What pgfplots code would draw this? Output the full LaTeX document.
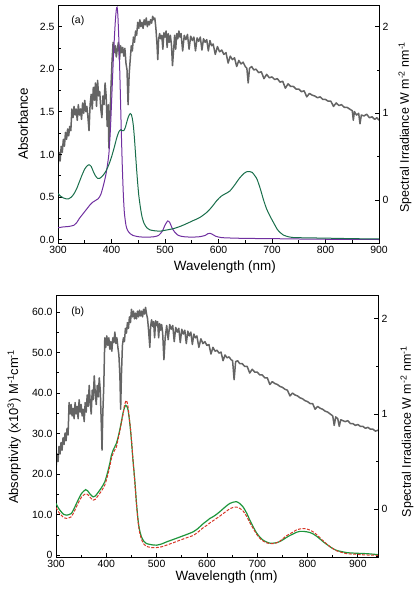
\documentclass[border=0pt]{standalone}
\usepackage{fontspec}
\setmainfont{Liberation Sans}
\usepackage{pgfplots}
\pgfplotsset{compat=1.18}
\definecolor{irgrey}{RGB}{100,100,100}
\definecolor{cpurple}{RGB}{112,48,160}
\definecolor{cteal}{RGB}{25,110,75}
\definecolor{cgreen}{RGB}{30,150,60}
\definecolor{cred}{RGB}{215,55,40}
\begin{document}
\begin{tikzpicture}
\useasboundingbox (0,0) rectangle (417bp,599bp);
\pgfplotsset{
  base/.style={
    scale only axis, anchor=south west,
    tick align=inside,
    /pgf/number format/assume math mode=true,
    tick label style={font=\fontsize{10.5}{12}\selectfont},
    label style={font=\fontsize{13.5}{15}\selectfont},
    major tick length=4bp, minor tick length=2.5bp,
    axis line style={line width=0.9bp},
    every tick/.style={black, line width=0.8bp},
  },
  grey/.style={irgrey, line width=1.5bp, line join=round},
}
% ---------------- panel (a): irradiance on right axis
\begin{axis}[base, at={(58bp,356bp)}, width=321bp, height=238bp,
  xmin=300, xmax=900, ymin=-0.496, ymax=2.25,
  axis y line*=right, axis x line=none,
  ytick={0,1,2}, minor ytick={-0.5,0.5,1.5},
  ylabel={Spectral Irradiance W m\textsuperscript{-2} nm\textsuperscript{-1}},
  ylabel style={at={(axis description cs:1.081,0.487)}, anchor=center, font=\fontsize{12.5}{14}\selectfont},
]
\addplot[grey] coordinates {
(300,0.38)(302,0.55)(304,0.45)(306,0.62)(308,0.55)(310,0.70)(312,0.62)(314,0.78)(316,0.70)(318,0.82)
(320,0.74)(322,0.85)(324,0.80)(326,1.05)(328,0.95)(330,1.08)(332,0.98)(334,1.05)(336,0.92)(338,1.10)
(340,0.98)(342,1.05)(344,0.93)(346,1.12)(348,1.00)(350,1.15)(352,1.02)(354,1.08)(356,0.95)(358,0.80)
(360,1.10)(362,1.22)(364,1.05)(366,1.30)(368,1.15)(370,1.35)(372,1.08)(374,1.38)(376,1.20)(378,1.25)
(380,1.05)(382,0.95)(384,1.20)(386,1.10)(388,1.35)(390,1.20)(392,0.85)(394,1.10)(395,0.60)(397,0.90)
(399,1.30)(401,1.60)(403,1.82)(405,1.70)(407,1.78)(409,1.65)(411,1.75)(413,1.82)(415,1.62)(417,1.78)
(419,1.70)(421,1.76)(423,1.66)(425,1.75)(427,1.58)(429,1.50)(431,1.10)(433,1.45)(435,1.62)(437,1.78)
(439,1.72)(441,1.88)(443,1.82)(445,1.95)(447,1.90)(449,2.05)(451,1.98)(453,2.08)(455,2.00)(457,2.05)
(459,1.98)(461,2.08)(463,2.02)(465,2.10)(467,2.00)(469,2.06)(471,2.02)(473,2.08)(475,2.04)(477,2.12)
(479,2.08)(481,2.10)(483,1.98)(485,1.80)(486.5,1.62)(488,1.85)(490,1.92)(492,1.86)(494,1.90)(496,1.74)
(498,1.93)(500,1.88)(502,1.95)(504,1.76)(506,1.92)(508,1.82)(510,1.90)(512,1.80)(514,1.55)(516,1.72)
(518,1.90)(520,1.74)(522,1.92)(524,1.86)(526,1.95)(528,1.88)(530,1.92)(533,1.72)(536,1.90)(539,1.85)
(542,1.91)(545,1.74)(548,1.89)(551,1.84)(554,1.88)(557,1.72)(560,1.87)(563,1.83)(566,1.88)(569,1.73)
(572,1.86)(575,1.82)(578,1.85)(581,1.72)(584,1.84)(587,1.78)(590,1.80)(594,1.68)(598,1.77)(602,1.71)
(606,1.73)(610,1.68)(614,1.70)(618,1.58)(622,1.66)(626,1.62)(630,1.64)(634,1.54)(638,1.61)(642,1.57)
(646,1.59)(650,1.54)(653,1.52)(655.5,1.35)(658,1.52)(662,1.54)(666,1.50)(670,1.51)(675,1.47)(680,1.48)
(685,1.40)(690,1.45)(695,1.41)(700,1.42)(705,1.39)(710,1.40)(715,1.36)(720,1.37)(725,1.29)(730,1.34)
(735,1.31)(740,1.31)(745,1.28)(750,1.28)(755,1.25)(760,1.26)(765,1.19)(770,1.23)(775,1.21)(780,1.20)
(785,1.18)(790,1.19)(795,1.16)(800,1.16)(805,1.14)(810,1.14)(815,1.08)(820,1.12)(825,1.09)(830,1.10)
(835,1.07)(840,1.07)(845,1.05)(850,1.03)(852,0.92)(854,1.02)(858,0.98)(862,1.00)(864.5,0.88)(867,0.98)
(872,0.97)(877,0.99)(882,0.95)(887,0.96)(892,0.93)(896,0.95)(900,0.92)
};
\end{axis}
% ---------------- panel (a): absorbance
\begin{axis}[base, at={(58bp,356bp)}, width=321bp, height=238bp,
  xmin=300, xmax=900, ymin=-0.039, ymax=2.755,
  xtick pos=bottom, ytick pos=left,
  xtick={300,400,...,900}, minor xtick={350,450,...,850},
  ytick={0,0.5,...,2.5}, minor ytick={0.25,0.75,...,2.25},
  yticklabel style={/pgf/number format/.cd, fixed, fixed zerofill, precision=1},
  xlabel={Wavelength (nm)}, ylabel={Absorbance},
  xlabel style={at={(axis description cs:0.52,-0.10)}, anchor=center},
  ylabel style={at={(axis description cs:-0.109,0.5)}, anchor=center},
]
\addplot[cpurple, line width=1bp, smooth, tension=0.4] coordinates {
(300,0.14)(310,0.15)(320,0.155)(330,0.17)(335,0.20)(340,0.25)(345,0.29)(350,0.33)(355,0.37)(360,0.41)
(365,0.44)(370,0.46)(375,0.48)(380,0.53)(385,0.64)(390,0.78)(395,1.00)(398,1.30)(401,1.75)(404,2.20)
(407,2.55)(409,2.70)(410.5,2.73)(412,2.62)(414,2.30)(416,1.85)(418,1.35)(420,0.90)(422,0.55)(424,0.32)
(427,0.17)(430,0.11)(435,0.07)(440,0.05)(450,0.035)(460,0.03)(470,0.03)(480,0.035)(488,0.05)(495,0.10)
(500,0.17)(505,0.22)(509,0.20)(513,0.14)(518,0.09)(525,0.05)(535,0.035)(550,0.03)(565,0.035)(575,0.05)
(580,0.07)(584,0.075)(588,0.065)(595,0.04)(605,0.025)(620,0.02)(650,0.015)(700,0.012)(750,0.008)(800,0.005)
(850,0.003)(900,0.002)
};
\addplot[cteal, line width=1bp, smooth, tension=0.4] coordinates {
(300,0.54)(305,0.51)(310,0.49)(315,0.48)(320,0.48)(325,0.50)(330,0.54)(335,0.60)(340,0.68)(345,0.76)
(350,0.83)(355,0.87)(358,0.88)(362,0.86)(366,0.80)(370,0.75)(374,0.72)(378,0.72)(382,0.74)(386,0.77)
(390,0.81)(395,0.88)(400,0.97)(405,1.08)(410,1.20)(414,1.27)(417,1.29)(420,1.28)(423,1.28)(426,1.32)
(429,1.39)(432,1.45)(435,1.48)(437,1.47)(439,1.42)(441,1.33)(443,1.18)(445,1.00)(447,0.82)(449,0.66)
(451,0.52)(454,0.38)(457,0.27)(461,0.19)(466,0.14)(472,0.115)(480,0.105)(491,0.10)(500,0.11)(516,0.13)
(530,0.16)(541,0.19)(553,0.225)(565,0.26)(578,0.32)(587,0.38)(597,0.46)(605,0.51)(613,0.54)(621,0.57)
(630,0.64)(639,0.72)(648,0.78)(654,0.80)(658,0.80)(663,0.79)(668,0.75)(672,0.71)(678,0.60)(684,0.47)
(690,0.36)(696,0.28)(702,0.21)(710,0.12)(716,0.08)(721,0.055)(730,0.035)(740,0.025)(760,0.022)(780,0.02)
(800,0.018)(850,0.012)(900,0.008)
};
\node[anchor=west, font=\fontsize{10.5}{12}\selectfont] at (axis description cs:0.031,0.933) {(a)};
\end{axis}
% ---------------- panel (b): irradiance on right axis
\begin{axis}[base, at={(56bp,42bp)}, width=322bp, height=262bp,
  xmin=300, xmax=940, ymin=-0.502, ymax=2.25,
  axis y line*=right, axis x line=none,
  ytick={0,1,2}, minor ytick={-0.5,0.5,1.5},
  ylabel={Spectral Irradiance W m\textsuperscript{-2} nm\textsuperscript{-1}},
  ylabel style={at={(axis description cs:1.09,0.478)}, anchor=center, font=\fontsize{12.5}{14}\selectfont},
]
\addplot[grey] coordinates {
(300,0.42)(302,0.58)(304,0.50)(306,0.66)(308,0.58)(310,0.70)(312,0.62)(314,0.75)(316,0.68)(318,0.80)
(320,0.72)(322,0.85)(324,0.78)(326,1.12)(328,1.00)(330,1.10)(332,0.98)(334,1.06)(336,0.95)(338,1.12)
(340,1.00)(342,1.08)(344,0.95)(346,1.15)(348,1.02)(350,1.10)(352,0.98)(354,1.05)(356,0.92)(358,1.12)
(360,1.02)(362,1.20)(364,1.08)(366,1.30)(368,1.12)(370,1.00)(372,1.25)(374,1.15)(376,1.40)(378,1.22)
(380,1.10)(382,1.30)(384,1.18)(386,1.38)(388,1.25)(390,0.90)(391.5,0.62)(393,1.00)(395,1.30)(397,1.80)
(399,1.70)(401,1.82)(403,1.72)(405,1.80)(407,1.68)(409,1.76)(411,1.66)(413,1.80)(415,1.75)(417,1.86)
(419,1.74)(421,1.80)(423,1.70)(425,1.62)(427,1.40)(428.5,1.05)(430,1.40)(432,1.72)(434,1.80)(436,1.76)
(438,1.90)(440,1.85)(442,1.96)(444,1.90)(446,2.02)(448,1.96)(450,2.10)(452,2.02)(454,2.08)(456,2.00)
(458,2.06)(460,2.00)(462,2.08)(464,2.02)(466,2.09)(468,2.03)(470,2.08)(472,2.02)(474,2.10)(476,2.05)
(478,2.12)(480,2.05)(482,2.00)(484,1.88)(486.5,1.70)(488,1.92)(490,1.99)(492,1.92)(494,1.97)(496,1.80)
(498,1.98)(500,1.93)(502,1.97)(504,1.80)(506,1.95)(508,1.88)(510,1.94)(512,1.85)(514.5,1.57)(517,1.80)
(520,1.93)(523,1.78)(526,1.94)(529,1.89)(532,1.93)(535,1.76)(538,1.91)(541,1.86)(544,1.90)(547,1.75)
(550,1.89)(553,1.84)(556,1.88)(559,1.74)(562,1.87)(565,1.82)(568,1.86)(571,1.73)(574,1.84)(577,1.80)
(580,1.82)(584,1.70)(588,1.79)(592,1.74)(596,1.76)(600,1.72)(604,1.73)(608,1.63)(612,1.70)(616,1.66)
(620,1.67)(624,1.64)(628,1.65)(632,1.56)(636,1.62)(640,1.59)(644,1.60)(648,1.57)(651,1.56)(654,1.36)
(657,1.55)(661,1.56)(665,1.53)(670,1.53)(675,1.50)(680,1.50)(685,1.43)(690,1.47)(695,1.44)(700,1.44)
(705,1.41)(710,1.41)(715,1.38)(720,1.38)(725,1.31)(730,1.34)(735,1.32)(740,1.31)(745,1.29)(750,1.28)
(755,1.26)(760,1.25)(765,1.19)(770,1.22)(775,1.20)(780,1.19)(785,1.17)(790,1.16)(795,1.14)(800,1.13)
(805,1.11)(810,1.11)(815,1.05)(820,1.08)(825,1.06)(830,1.05)(835,1.03)(840,1.02)(845,1.00)(850,0.98)
(853,0.88)(856,0.97)(860,0.95)(863,0.87)(866,0.94)(870,0.93)(875,0.92)(880,0.93)(885,0.90)(890,0.90)
(895,0.88)(900,0.89)(905,0.87)(910,0.87)(915,0.85)(920,0.86)(925,0.84)(930,0.84)(935,0.82)(940,0.83)
};
\end{axis}
% ---------------- panel (b): absorptivity
\begin{axis}[base, at={(56bp,42bp)}, width=322bp, height=262bp,
  xmin=300, xmax=940, ymin=-0.42, ymax=64.2,
  xtick pos=bottom, ytick pos=left,
  xtick={300,400,...,900}, minor xtick={350,450,...,850},
  ytick={0,10,...,60}, minor ytick={5,15,...,55},
  yticklabels={0,10.0,20.0,30.0,40.0,50.0,60.0},
  xlabel={Wavelength (nm)},
  ylabel={Absorptivity (x10\textsuperscript{3}) M\textsuperscript{-1}cm\textsuperscript{-1}},
  xlabel style={at={(axis description cs:0.53,-0.075)}, anchor=center},
  ylabel style={at={(axis description cs:-0.13,0.497)}, anchor=center, font=\fontsize{13}{15}\selectfont},
]
\addplot[cgreen, line width=1.2bp, smooth, tension=0.4] coordinates {
(300,12.8)(305,11.6)(310.6,10.7)(315,10.1)(320.6,9.9)(325,10.0)(330.5,10.3)(337,11.8)(343.8,13.6)(351,15.3)
(359,16.2)(363,15.9)(367,15.2)(373.7,14.4)(378,14.6)(383.6,15.5)(390,16.6)(396.9,18.1)(402,20.2)(406.8,22.6)
(410,24.6)(413.5,25.9)(417,26.8)(420,27.6)(423,28.9)(426.7,30.9)(430,33.0)(433,35.0)(436,36.4)(438.7,37.0)
(441,36.7)(443.3,35.8)(446,33.3)(448,31.0)(450,28.2)(453,23.5)(456.6,18.5)(460,12.8)(463.2,8.6)(466,6.3)
(470,4.5)(475,3.4)(479.8,2.9)(490,2.6)(499.7,2.5)(510,2.8)(519.6,3.3)(533,3.9)(546,4.5)(559,5.1)
(572.7,5.8)(582,6.6)(592.6,7.8)(600,8.5)(605.9,9.1)(612,9.5)(619,10.1)(626,10.8)(632.4,11.5)(639,12.2)
(645.7,12.8)(652,13.1)(659,13.2)(665,12.8)(672,11.9)(679,10.4)(685.5,8.6)(692,7.0)(698.8,5.5)(705,4.5)
(712,3.7)(718,3.3)(725,3.0)(732,3.0)(738.6,3.1)(745,3.4)(751.9,3.9)(758,4.4)(765,4.9)(772,5.3)
(778.5,5.7)(785,5.9)(791.7,5.9)(798,5.8)(805,5.6)(812,5.2)(818,4.7)(825,4.0)(831.5,3.3)(838,2.7)
(844.8,2.1)(851,1.6)(858,1.2)(868,0.9)(878,0.66)(888,0.56)(897.9,0.5)(907,0.45)(917.8,0.4)(928,0.3)
(940,0.16)
};
\addplot[cred, line width=1.0bp, dash pattern=on 3bp off 1.5bp, smooth, tension=0.4] coordinates {
(300,11.8)(305,10.7)(310.6,9.9)(315,9.3)(320.6,9.1)(325,9.2)(330.5,9.5)(337,11.0)(343.8,12.8)(351,14.4)
(359,15.2)(363,15.0)(367,14.4)(373.7,13.6)(378,13.8)(383.6,14.7)(390,15.8)(396.9,17.3)(402,19.4)(406.8,21.8)
(410,23.8)(413.5,25.1)(417,26.0)(420,26.7)(423,28.4)(426.7,30.5)(430,32.7)(433,34.6)(436,36.9)(438.7,38.0)
(440,38.2)(441.5,37.7)(443.3,36.5)(446,33.5)(448,31.2)(450,28.6)(453,23.5)(456.6,18.1)(460,12.5)(463.2,8.2)
(466,5.8)(470,3.9)(475,2.7)(479.8,2.2)(490,1.9)(499.7,1.9)(510,2.1)(519.6,2.5)(533,3.1)(546,3.7)
(559,4.3)(572.7,4.9)(582,5.7)(592.6,6.8)(600,7.4)(605.9,8.0)(612,8.5)(619,9.1)(626,9.7)(632.4,10.3)
(639,10.9)(645.7,11.5)(652,11.8)(659,11.9)(665,11.6)(672,10.9)(679,9.6)(685.5,8.0)(692,6.6)(698.8,5.2)
(705,4.2)(712,3.5)(718,3.1)(725,2.9)(732,2.9)(738.6,3.1)(745,3.5)(751.9,4.2)(758,4.8)(765,5.3)
(772,5.8)(778.5,6.3)(785,6.5)(791.7,6.6)(798,6.5)(805,6.2)(812,5.7)(818,5.1)(825,4.3)(831.5,3.5)
(838,2.8)(844.8,2.1)(851,1.6)(858,1.1)(868,0.7)(878,0.4)(888,0.3)(897.9,0.25)(907,0.15)(917.8,0.08)
(928,0.03)(940,0)
};
\node[anchor=west, font=\fontsize{10.5}{12}\selectfont] at (axis description cs:0.037,0.935) {(b)};
\end{axis}
\end{tikzpicture}
\end{document}
